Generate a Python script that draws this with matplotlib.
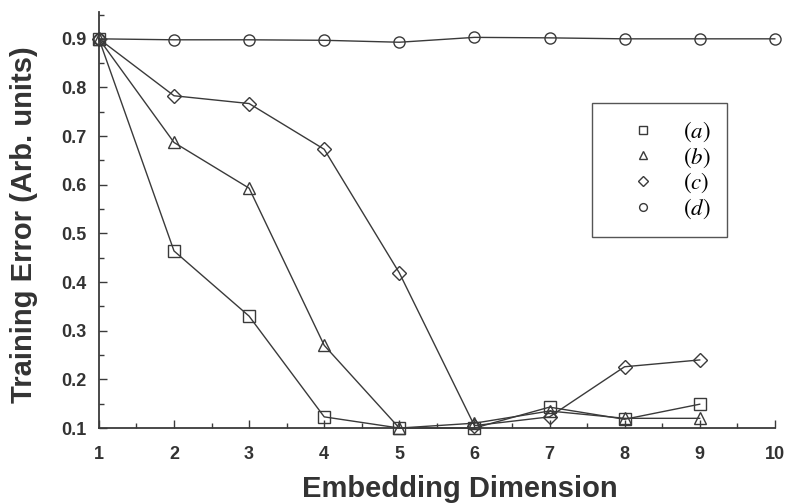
import matplotlib
matplotlib.use("Agg")
import matplotlib.pyplot as plt
from matplotlib.ticker import MultipleLocator

plt.rcParams['font.family'] = ['Liberation Sans', 'DejaVu Sans']
plt.rcParams['mathtext.fontset'] = 'stix'

dims = [1, 2, 3, 4, 5, 6, 7, 8, 9, 10]
err_a = [0.90, 0.464, 0.330, 0.123, 0.100, 0.100, 0.143, 0.118, 0.149]
err_b = [0.90, 0.687, 0.593, 0.270, 0.100, 0.110, 0.135, 0.120, 0.120]
err_c = [0.90, 0.783, 0.767, 0.673, 0.419, 0.105, 0.123, 0.226, 0.240]
err_d = [0.90, 0.898, 0.898, 0.897, 0.893, 0.903, 0.902, 0.900, 0.900, 0.900]

labels = [r'$(a)$', r'$(b)$', r'$(c)$', r'$(d)$']
markers = ['s', '^', 'D', 'o']
msizes = [8, 8, 7.5, 8]
color = '#3a3a3a'

fig = plt.figure(figsize=(7.85, 5.03), dpi=100)
ax = fig.add_axes([0.126, 0.149, 0.861, 0.827])

series = [err_a, err_b, err_c, err_d]
for ys, lab, mk, ms in zip(series, labels, markers, msizes):
    ax.plot(dims[:len(ys)], ys, color=color, lw=1.0, marker=mk, ms=ms,
            mfc='none', mec=color, mew=1.0, label=lab, clip_on=False, zorder=3)

ax.set_xlim(1, 10)
ax.set_ylim(0.1, 0.955)
ax.xaxis.set_major_locator(MultipleLocator(1))
ax.xaxis.set_minor_locator(MultipleLocator(0.5))
ax.yaxis.set_minor_locator(MultipleLocator(0.05))
ax.set_yticks([0.1, 0.2, 0.3, 0.4, 0.5, 0.6, 0.7, 0.8, 0.9])
ax.set_yticklabels(['0.1', '0.2', '0.3', '0.4', '0.5', '0.6', '0.7', '0.8', '0.9'])

for s in ['top', 'right']:
    ax.spines[s].set_visible(False)
for s in ['left', 'bottom']:
    ax.spines[s].set_color(color)
    ax.spines[s].set_linewidth(1.3)

ax.tick_params(which='both', direction='in', color=color, width=1.0)
ax.tick_params(which='major', length=6, labelsize=13)
ax.tick_params(axis='x', which='major', pad=13)
ax.tick_params(axis='y', which='major', pad=9)
ax.tick_params(which='minor', length=3.5)
for t in ax.get_xticklabels() + ax.get_yticklabels():
    t.set_fontweight('bold')
    t.set_color('#333333')

ax.set_xlabel('Embedding Dimension', fontsize=21, fontweight='bold',
              color='#333333')
ax.xaxis.set_label_coords(0.534, -0.112)
ax.set_ylabel('Training Error (Arb. units)', fontsize=21, fontweight='bold',
              color='#333333')
ax.yaxis.set_label_coords(-0.09, 0.49)

leg = ax.legend(loc='upper left', bbox_to_anchor=(0.729, 0.781), frameon=True,
                fancybox=False, edgecolor='#555555', framealpha=1,
                prop={'size': 16.5}, markerscale=0.7, handlelength=3.0,
                handletextpad=0.25, borderpad=0.72, labelspacing=0.05,
                borderaxespad=0)
for line in leg.get_lines():
    line.set_linestyle('none')
leg.get_frame().set_linewidth(1.0)

fig.savefig('out.png', dpi=100)
